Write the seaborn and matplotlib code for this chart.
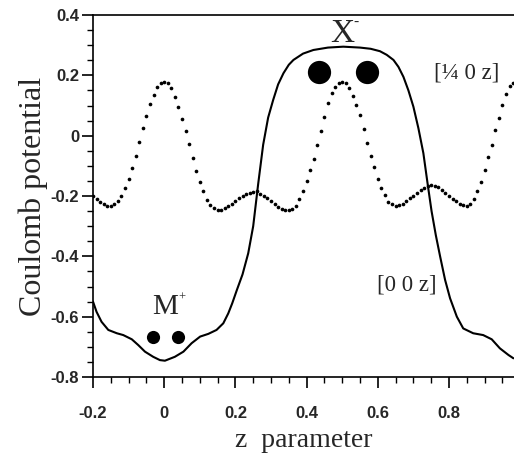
import matplotlib
matplotlib.use("Agg")
import matplotlib.pyplot as plt
from matplotlib.ticker import MultipleLocator, FuncFormatter
import seaborn as sns
import pandas as pd
import numpy as np

# [0 0 z] solid curve
solid_z = [-0.200, -0.190, -0.176, -0.157, -0.133, -0.115, -0.091, -0.073, -0.054, -0.031,
           -0.012, 0.002, 0.030, 0.054, 0.077, 0.101, 0.124, 0.147, 0.166, 0.180,
           0.191, 0.204, 0.220, 0.236, 0.250, 0.264, 0.278, 0.292, 0.306, 0.320,
           0.335, 0.350, 0.363, 0.390, 0.419, 0.460, 0.503, 0.550, 0.580, 0.606,
           0.625, 0.644, 0.658, 0.672, 0.686, 0.700, 0.714, 0.728, 0.740, 0.751,
           0.763, 0.775, 0.789, 0.803, 0.822, 0.840, 0.868, 0.896, 0.920, 0.943,
           0.967, 0.981]
solid_v = [-0.550, -0.584, -0.617, -0.644, -0.655, -0.661, -0.675, -0.694, -0.716, -0.733,
           -0.744, -0.746, -0.733, -0.716, -0.688, -0.666, -0.657, -0.644, -0.622, -0.589,
           -0.556, -0.512, -0.460, -0.390, -0.300, -0.160, -0.030, 0.060, 0.118, 0.170,
           0.207, 0.235, 0.251, 0.272, 0.284, 0.292, 0.295, 0.292, 0.288, 0.280,
           0.268, 0.251, 0.228, 0.195, 0.150, 0.096, 0.025, -0.058, -0.160, -0.250,
           -0.330, -0.400, -0.478, -0.539, -0.600, -0.639, -0.655, -0.661, -0.675, -0.705,
           -0.727, -0.738]

# [1/4 0 z] dotted curve (one dot every 0.01 in z)
dot_z = [round(-0.20 + 0.01 * i, 2) for i in range(119)]
dot_v = [-0.200, -0.210, -0.219, -0.227, -0.232, -0.233, -0.228, -0.217, -0.199, -0.172,
         -0.145, -0.106, -0.068, -0.020, 0.024, 0.065, 0.105, 0.136, 0.160, 0.174,
         0.179, 0.173, 0.159, 0.129, 0.094, 0.056, 0.014, -0.028, -0.073, -0.118,
         -0.152, -0.185, -0.213, -0.230, -0.240, -0.247, -0.248, -0.241, -0.233, -0.225,
         -0.218, -0.208, -0.201, -0.194, -0.189, -0.186, -0.184, -0.193, -0.199, -0.206,
         -0.217, -0.228, -0.236, -0.243, -0.246, -0.246, -0.243, -0.233, -0.210, -0.185,
         -0.150, -0.114, -0.076, -0.031, 0.016, 0.061, 0.108, 0.140, 0.162, 0.176,
         0.179, 0.174, 0.157, 0.133, 0.101, 0.067, 0.021, -0.024, -0.068, -0.105,
         -0.145, -0.173, -0.198, -0.219, -0.228, -0.232, -0.231, -0.226, -0.218, -0.208,
         -0.199, -0.190, -0.180, -0.172, -0.167, -0.164, -0.166, -0.171, -0.179, -0.189,
         -0.199, -0.209, -0.218, -0.225, -0.230, -0.232, -0.226, -0.211, -0.185, -0.152,
         -0.113, -0.070, -0.030, 0.019, 0.059, 0.103, 0.138, 0.164, 0.174]

# ion markers
anion_z = [0.436, 0.569]
anion_v = [0.212, 0.212]
cation_z = [-0.032, 0.040]
cation_v = [-0.668, -0.668]

sns.set_style("ticks")
plt.rcParams['axes.unicode_minus'] = False

fig = plt.figure(figsize=(5.14, 4.57), dpi=100)
ax = fig.add_axes([93 / 514, 1 - 377 / 457, (514 - 93) / 514, (377 - 15) / 457])

solid_df = pd.DataFrame({"z": solid_z, "v": solid_v})
dot_df = pd.DataFrame({"z": dot_z, "v": dot_v})

sns.lineplot(data=solid_df, x="z", y="v", sort=False, color="black", lw=1.5, ax=ax,
             solid_joinstyle="round", solid_capstyle="round")
sns.scatterplot(data=dot_df, x="z", y="v", color="black", s=7, linewidth=0, ax=ax)
sns.scatterplot(x=anion_z, y=anion_v, color="black", s=280, linewidth=0, ax=ax)
sns.scatterplot(x=cation_z, y=cation_v, color="black", s=90, linewidth=0, ax=ax)

ax.set_xlim(-0.2, 0.9826)
ax.set_ylim(-0.8, 0.4)
ax.xaxis.set_major_locator(MultipleLocator(0.2))
ax.xaxis.set_minor_locator(MultipleLocator(0.05))
ax.yaxis.set_major_locator(MultipleLocator(0.2))
ax.yaxis.set_minor_locator(MultipleLocator(0.05))
fmt = FuncFormatter(lambda v, p: "0" if abs(v) < 1e-9 else f"{v:.1f}")
ax.xaxis.set_major_formatter(fmt)
ax.yaxis.set_major_formatter(fmt)
ax.tick_params(which="major", direction="out", length=8, width=1.2, color="black")
ax.tick_params(which="minor", direction="out", length=4.5, width=1.0, color="black")
ax.tick_params(axis="x", which="major", pad=13)
ax.tick_params(axis="y", which="major", pad=2)
for lab in ax.get_xticklabels() + ax.get_yticklabels():
    lab.set_fontfamily("Liberation Sans")
    lab.set_fontweight("bold")
    lab.set_fontsize(12)

ax.spines["right"].set_visible(False)
for s in ["left", "bottom", "top"]:
    ax.spines[s].set_linewidth(1.2)
    ax.spines[s].set_color("black")

serif = "Liberation Serif"
ax.set_xlabel("z  parameter", fontsize=20, family=serif, labelpad=5)
ax.set_ylabel("Coulomb potential", fontsize=23, family=serif, labelpad=2)

ax.text(0.500, 0.338, "X", fontsize=24, family=serif, ha="center", va="center")
ax.annotate("-", xy=(0.500, 0.338), xytext=(10, 8), textcoords="offset points",
            fontsize=11, family=serif, ha="center", va="center")
ax.text(0.003, -0.568, "M", fontsize=21, family=serif, ha="center", va="center")
ax.annotate("+", xy=(0.003, -0.568), xytext=(12, 7), textcoords="offset points",
            fontsize=9, family=serif, ha="center", va="center")
ax.text(0.850, 0.207, "[\u00bc 0 z]", fontsize=16.5, family=serif, ha="center", va="center")
ax.text(0.682, -0.495, "[0 0 z]", fontsize=16.5, family=serif, ha="center", va="center")

fig.savefig("out.png", dpi=100)
